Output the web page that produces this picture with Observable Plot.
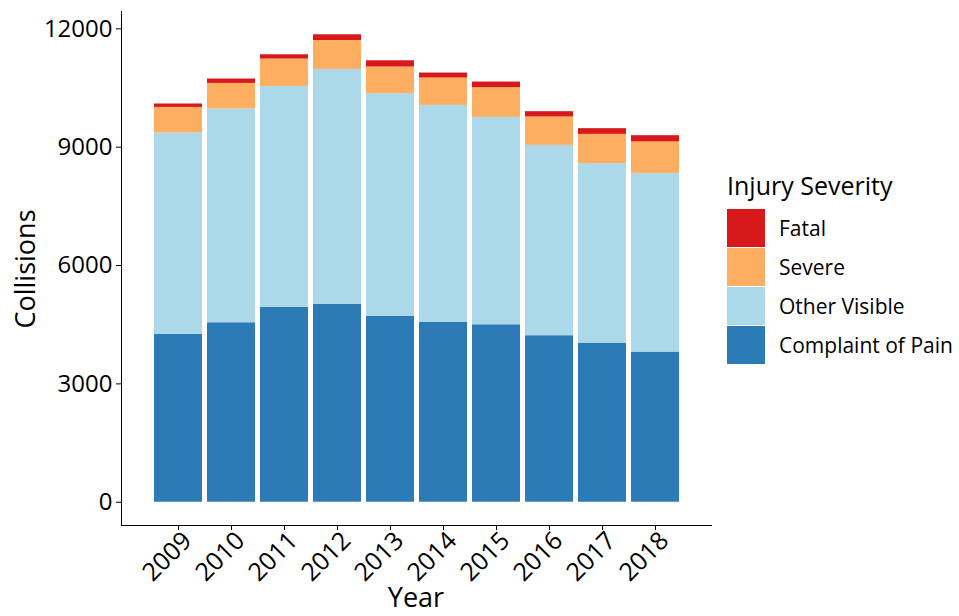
<!DOCTYPE html>
<html>
<head>
<meta charset="utf-8">
<script src="https://cdn.jsdelivr.net/npm/d3@7"></script>
<script src="https://cdn.jsdelivr.net/npm/@observablehq/plot@0.6"></script>
<style>
  html, body { margin: 0; padding: 0; background: #fff; }
  #wrap { position: relative; width: 959px; height: 616px; font-family: "Open Sans", sans-serif; }
  #legend { position: absolute; left: 727px; top: 167px; color: #000; }
  #legend .title { font-size: 25px; line-height: 36px; margin-bottom: 5px; white-space: nowrap; }
  #legend .row { display: flex; align-items: center; height: 39px; }
  #legend .sw { width: 38px; height: 38px; margin-right: 14px; }
  #legend .lab { font-size: 21px; white-space: nowrap; }
</style>
</head>
<body>
<div id="wrap"></div>
<script>
const years = ["2009","2010","2011","2012","2013","2014","2015","2016","2017","2018"];
const severities = ["Complaint of Pain","Other Visible","Severe","Fatal"];
const complaintOfPain = [4254,4550,4945,5013,4710,4565,4499,4221,4034,3806];
const otherVisible    = [5107,5418,5596,5958,5646,5495,5257,4826,4549,4524];
const severe          = [648,649,694,734,676,693,752,719,742,803];
const fatal           = [86,111,108,145,159,127,144,134,145,159];
const colors = ["#2c7bb6","#abd9e9","#fdae61","#d7191c"];
const yTicks = [0,3000,6000,9000,12000];

const series = [complaintOfPain, otherVisible, severe, fatal];
const data = [];
years.forEach((yr, i) => {
  severities.forEach((s, j) => data.push({year: yr, severity: s, value: series[j][i]}));
});

const chart = Plot.plot({
  width: 959,
  height: 616,
  marginLeft: 121,
  marginRight: 248,
  marginTop: 11,
  marginBottom: 91,
  style: {fontFamily: "Open Sans, sans-serif", color: "#000", background: "#fff"},
  x: {domain: years, paddingInner: 0.1, paddingOuter: 0.595, label: null},
  y: {domain: [-590, 12440], label: null},
  color: {domain: severities, range: colors},
  marks: [
    Plot.barY(data, Plot.stackY({order: severities}, {x: "year", y: "value", fill: "severity"})),
    Plot.axisY({ticks: yTicks, tickSize: 5, tickPadding: 4, fontSize: 24, label: null, tickFormat: d => String(d)}),
    Plot.axisX({tickSize: 5, tickFormat: () => "", label: null}),
    Plot.axisX({tickSize: 0, tickRotate: -45, fontSize: 25, tickPadding: 7, dx: 9, dy: 4, label: null}),
    Plot.frame({anchor: "left"}),
    Plot.frame({anchor: "bottom"})
  ]
});
document.getElementById("wrap").appendChild(chart);

// axis titles
const svg = d3.select(chart);
svg.append("text").attr("x", 416).attr("y", 607).attr("text-anchor", "middle")
  .attr("font-size", 27).attr("fill", "#000").text("Year");
svg.append("text").attr("transform", "translate(35,269) rotate(-90)").attr("text-anchor", "middle")
  .attr("font-size", 27).attr("fill", "#000").text("Collisions");

// legend
const legend = d3.select("#wrap").append("div").attr("id", "legend");
legend.append("div").attr("class", "title").text("Injury Severity");
const order = severities.slice().reverse();
order.forEach(s => {
  const row = legend.append("div").attr("class", "row");
  row.append("div").attr("class", "sw").style("background", colors[severities.indexOf(s)]);
  row.append("div").attr("class", "lab").text(s);
});
</script>
</body>
</html>
